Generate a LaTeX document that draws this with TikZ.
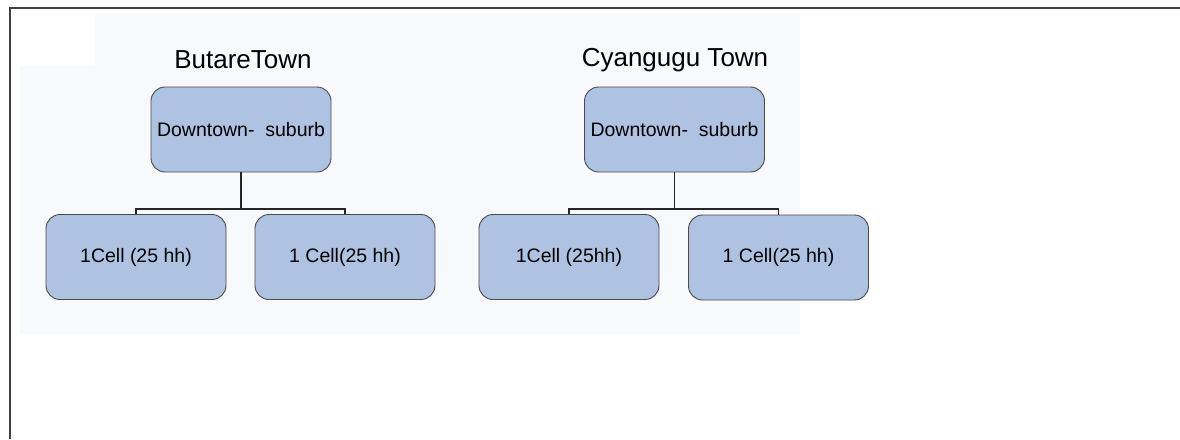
\documentclass[tikz,border=0pt]{standalone}
\usepackage{fontspec}
\setmainfont{Liberation Sans}
\definecolor{boxblue}{HTML}{AEC2E2}
\definecolor{boxline}{HTML}{4A4A4A}
\definecolor{scanbg}{HTML}{F7F9FB}
\begin{document}
\begin{tikzpicture}[x=1pt,y=-1pt,
  box/.style={draw=boxline, line width=0.9pt, fill=boxblue, rounded corners=14pt,
    minimum width=180pt, minimum height=85pt, inner sep=0pt, font=\fontsize{19.5}{23}\selectfont},
  title/.style={font=\fontsize{26}{30}\selectfont, inner sep=0pt},
  link/.style={draw=black!85, line width=1.1pt}]
\useasboundingbox (0,0) rectangle (1180,439);
\fill[white] (0,0) rectangle (1180,439);
\fill[scanbg] (20,66) rectangle (800,334);
\fill[scanbg] (95,14) rectangle (800,66);
% frame
\draw[black!75, line width=1.3pt] (10,439) -- (10,8) -- (1180,8);
% titles
\node[title] (t1) at (243,60) {ButareTown};
\node[title] (t2) at (675,60) {Cyangugu Town};
% Butare
\node[box] (a0) at (241,129.5) {Downtown-\ \ suburb};
\node[box] (a1) at (136,257) {1Cell (25 hh)};
\node[box] (a2) at (345,257) {1 Cell(25 hh)};
% Cyangugu
\node[box] (b0) at (674.5,129.5) {Downtown-\ \ suburb};
\node[box] (b1) at (569,257) {1Cell (25hh)};
\node[box] (b2) at (778.5,257.5) {1 Cell(25 hh)};
% connectors
\coordinate (ja) at (241,209);
\coordinate (jb) at (674.5,209);
\draw[link] (a0.south) -- (ja);
\draw[link] (a1.north) -- (a1.north |- ja) -- (a2.north |- ja) -- (a2.north);
\draw[link] (b0.south) -- (jb);
\draw[link] (b1.north) -- (b1.north |- jb) -- (b2.north |- jb) -- (b2.north);
\end{tikzpicture}
\end{document}
